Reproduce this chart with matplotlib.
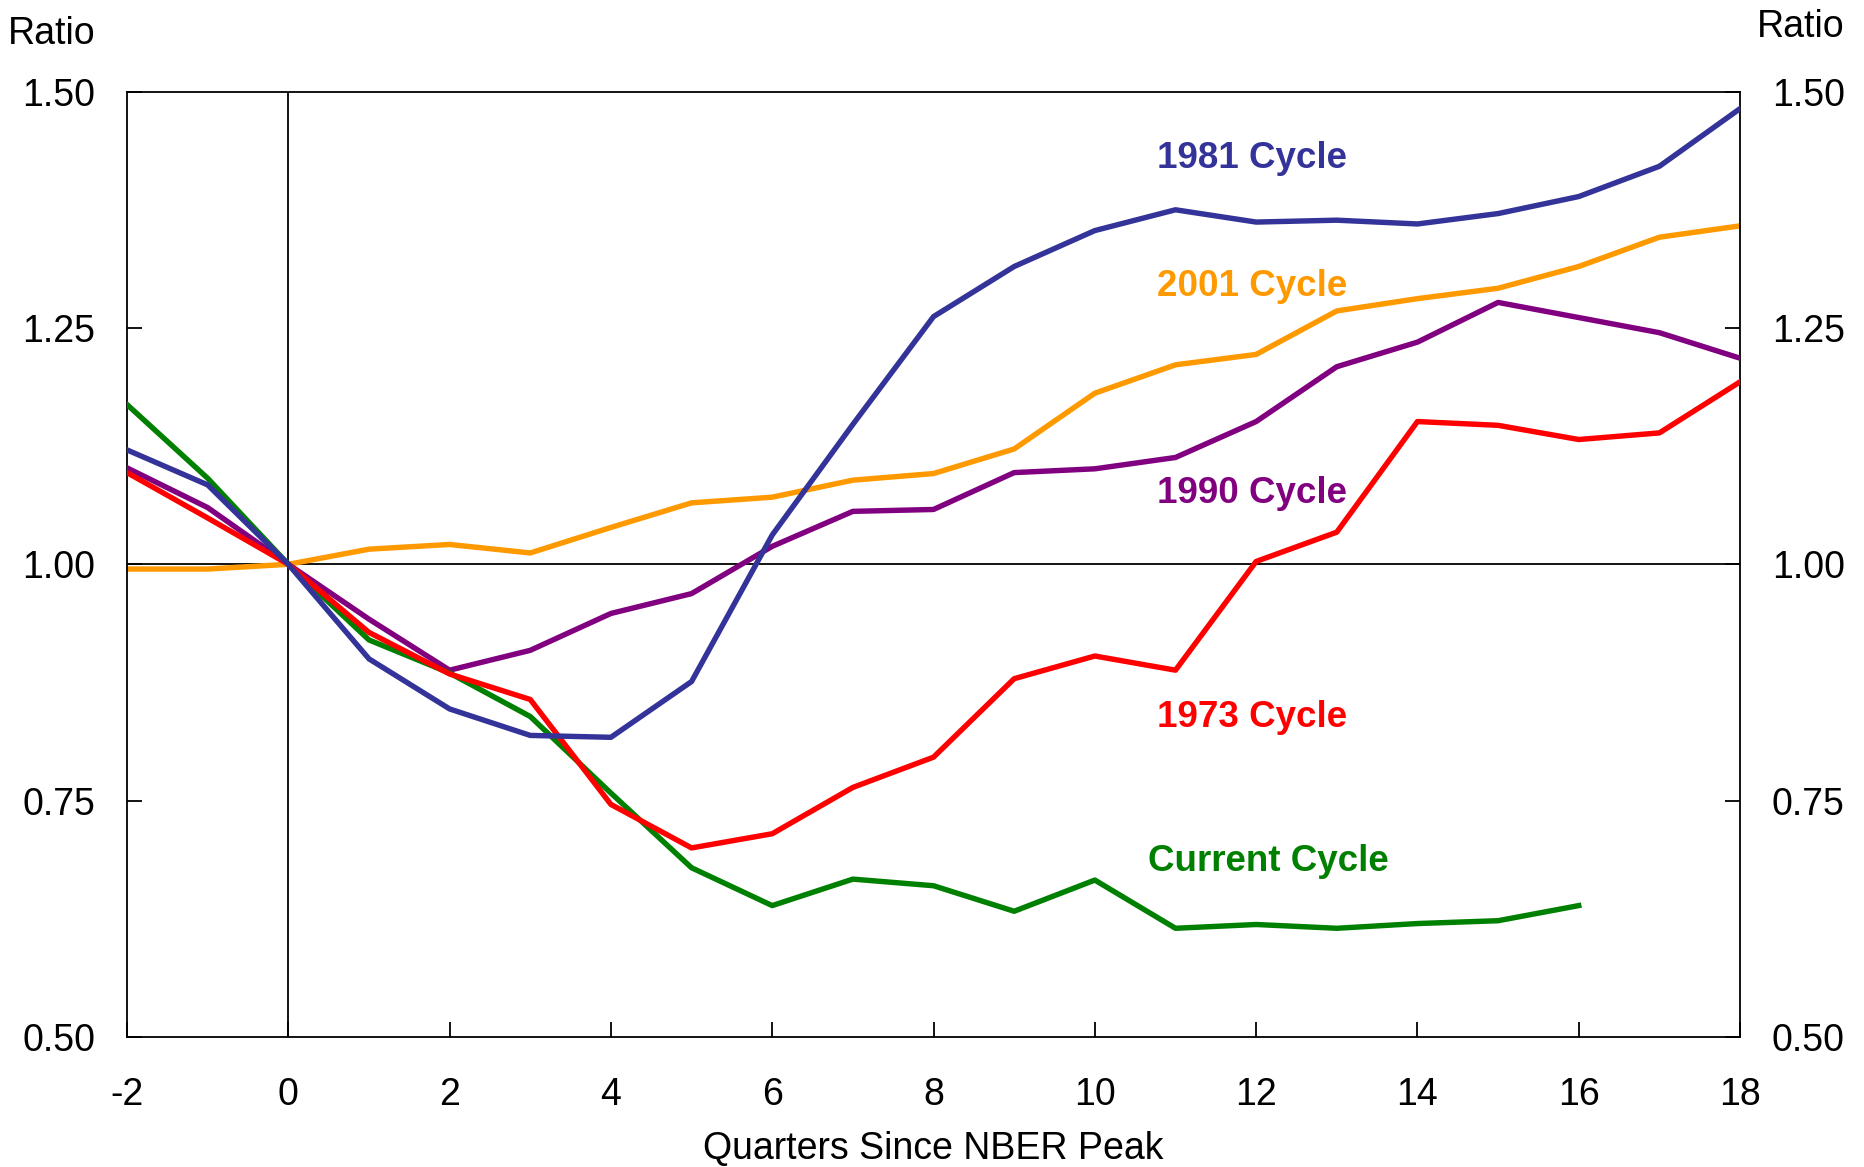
import matplotlib
matplotlib.use('Agg')
import matplotlib.pyplot as plt

plt.rcParams['font.family'] = ['Liberation Sans', 'DejaVu Sans']
plt.rcParams['axes.unicode_minus'] = False

quarters = list(range(-2, 19))
current_quarters = list(range(-2, 17))

cycle_1981 = [1.121, 1.084, 1.000, 0.900, 0.847, 0.819, 0.817, 0.876, 1.031, 1.148,
              1.262, 1.315, 1.353, 1.375, 1.362, 1.364, 1.360, 1.371, 1.389, 1.421, 1.482]
cycle_2001 = [0.995, 0.995, 1.000, 1.016, 1.021, 1.012, 1.039, 1.065, 1.071, 1.089,
              1.096, 1.122, 1.181, 1.211, 1.222, 1.268, 1.281, 1.292, 1.315, 1.346, 1.358]
cycle_1990 = [1.102, 1.060, 1.000, 0.942, 0.888, 0.909, 0.948, 0.969, 1.019, 1.056,
              1.058, 1.097, 1.101, 1.113, 1.151, 1.209, 1.235, 1.277, 1.261, 1.245, 1.218]
cycle_1973 = [1.097, 1.049, 1.000, 0.928, 0.884, 0.857, 0.746, 0.700, 0.715, 0.764,
              0.796, 0.879, 0.903, 0.888, 1.003, 1.034, 1.151, 1.147, 1.132, 1.139, 1.193]
cycle_current = [1.169, 1.091, 1.000, 0.920, 0.885, 0.839, 0.758, 0.679, 0.639, 0.667,
                 0.660, 0.633, 0.666, 0.615, 0.619, 0.615, 0.620, 0.623, 0.639]

blue = '#333399'
orange = '#FF9900'
purple = '#800080'
red = '#FF0000'
green = '#008000'

fig = plt.figure(figsize=(18.65, 11.67), dpi=100)
ax = fig.add_axes([0.0681, 0.1114, 0.8649, 0.8101])

ax.axhline(1.0, color='black', lw=1.3, zorder=1)
ax.axvline(0, color='black', lw=1.3, zorder=1)

lw = 3.9
ax.plot(quarters, cycle_2001, color=orange, lw=lw, zorder=2)
ax.plot(quarters, cycle_1990, color=purple, lw=lw, zorder=3)
ax.plot(current_quarters, cycle_current, color=green, lw=lw, zorder=4)
ax.plot(quarters, cycle_1973, color=red, lw=lw, zorder=5)
ax.plot(quarters, cycle_1981, color=blue, lw=lw, zorder=6)

lab = dict(fontsize=26.5, fontweight='bold', ha='center', va='center')
ax.text(11.95, 1.429, '1981 Cycle', color=blue, **lab)
ax.text(11.95, 1.294, '2001 Cycle', color=orange, **lab)
ax.text(11.95, 1.075, '1990 Cycle', color=purple, **lab)
ax.text(11.95, 0.838, '1973 Cycle', color=red, **lab)
ax.text(12.15, 0.686, 'Current Cycle', color=green, **lab)

ax.set_xlim(-2, 18)
ax.set_ylim(0.5, 1.5)
ax.set_xticks(range(-2, 19, 2))
ax.set_yticks([0.5, 0.75, 1.0, 1.25, 1.5])
ax.set_yticklabels(['0.50', '0.75', '1.00', '1.25', '1.50'])
ax.tick_params(axis='both', direction='in', length=11, width=1.3, labelsize=27)
ax.tick_params(axis='x', pad=29)
ax.tick_params(axis='y', pad=23, right=True, labelright=True)
for s in ax.spines.values():
    s.set_linewidth(1.3)

ax.set_xlabel('Quarters Since NBER Peak', fontsize=27, labelpad=13)
fig.text(0.004, 0.971, 'Ratio', fontsize=27, ha='left', va='center')
fig.text(0.989, 0.977, 'Ratio', fontsize=27, ha='right', va='center')

fig.savefig('out.png', dpi=100)
